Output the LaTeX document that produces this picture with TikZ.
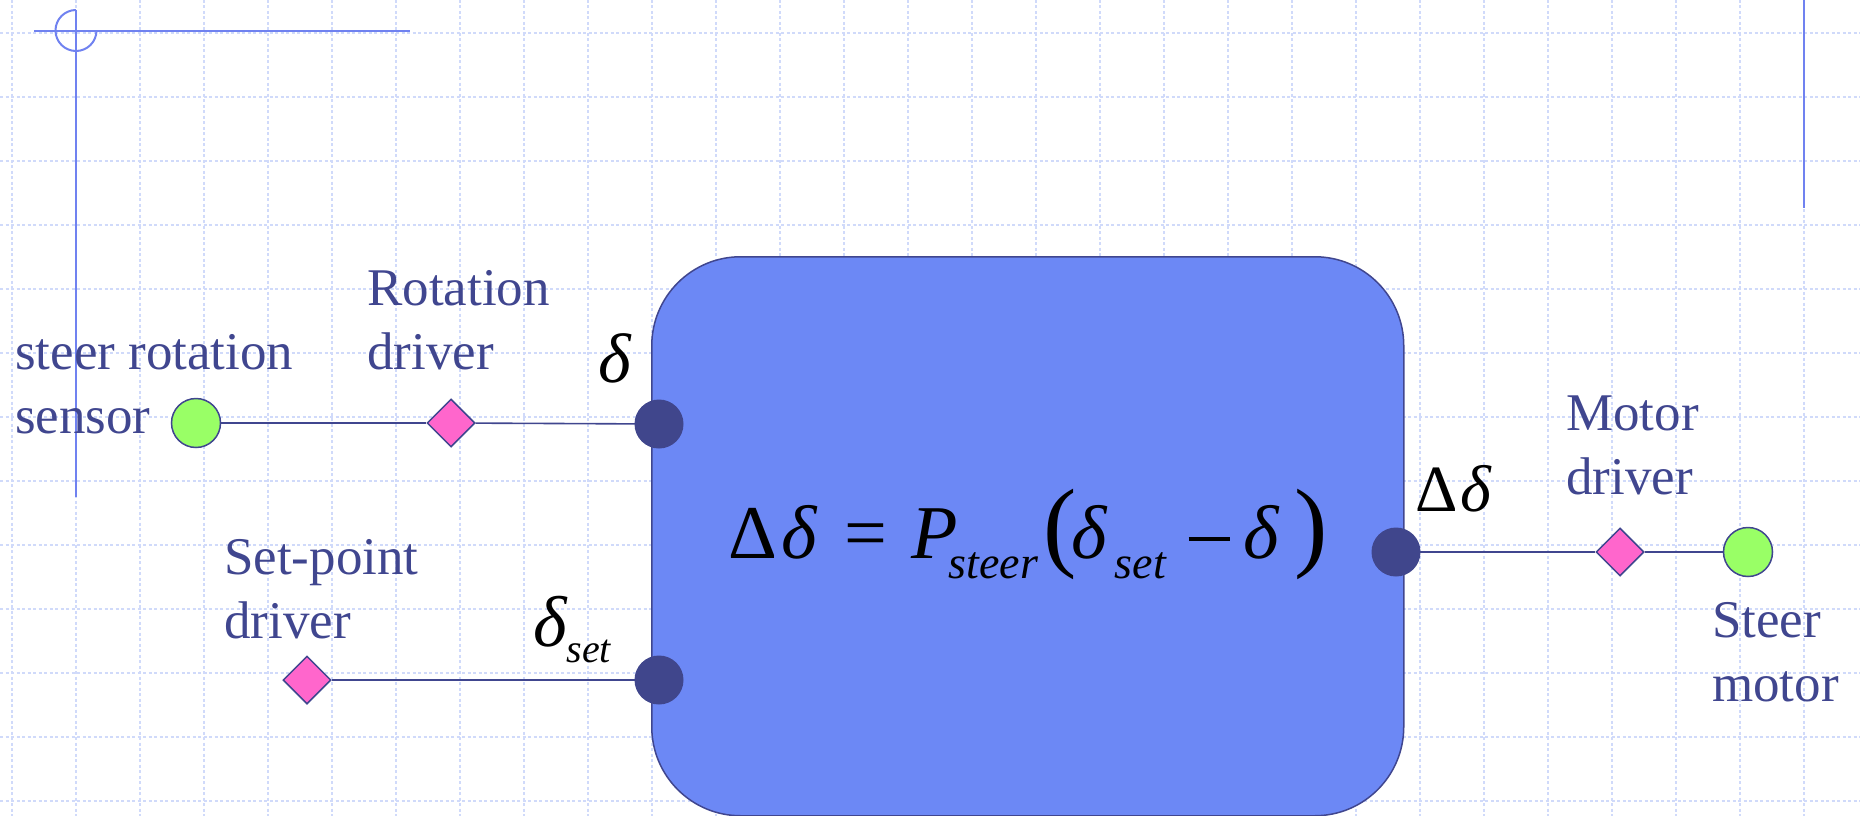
\documentclass[tikz,border=0pt]{standalone}
\usepackage{fontspec}
\setmainfont{Liberation Serif}
\usetikzlibrary{shapes.geometric}
\definecolor{gridc}{RGB}{208,218,250}
\definecolor{guide}{RGB}{112,130,240}
\definecolor{navy}{RGB}{64,70,143}
\definecolor{boxfill}{RGB}{108,136,245}
\definecolor{portc}{RGB}{64,70,140}
\definecolor{sensc}{RGB}{153,255,102}
\definecolor{drvc}{RGB}{255,102,204}
\begin{document}
\begin{tikzpicture}[x=1pt,y=-1pt,
  gridline/.style={gridc, line width=1.4pt, dash pattern=on 3pt off 2.5pt},
  guideline/.style={guide, line width=2pt},
  lbl/.style={anchor=base west, inner sep=0pt, text=navy, font=\fontsize{53}{64}\selectfont},
  sym/.style={anchor=base west, inner sep=0pt, text=black},
  wire/.style={navy, line width=1.6pt},
  sensor/.style={circle, draw=navy, line width=1.5pt, fill=sensc, minimum size=49pt, inner sep=0pt},
  driver/.style={diamond, draw=navy, line width=1.5pt, fill=drvc, minimum width=48pt, minimum height=48pt, inner sep=0pt},
  port/.style={circle, fill=portc, minimum size=49pt, inner sep=0pt},
  blockbox/.style={draw=navy, line width=1.5pt, fill=boxfill, rounded corners=89pt, inner sep=0pt},
]
\useasboundingbox (0,0) rectangle (1860,816);
% background grid
\foreach \i in {0,...,28} \draw[gridline] ({12+64*\i},0) -- ({12+64*\i},816);
\foreach \j in {0,...,12} \draw[gridline] (0,{33+64*\j}) -- (1860,{33+64*\j});
% guide lines
\draw[guideline] (34,31) -- (410,31);
\draw[guideline] (76,10) -- (76,497);
\draw[guideline] (76,10) arc[start angle=270, end angle=0, radius=20.5];
\draw[guideline] (1804,0) -- (1804,208);
% main block
\node[blockbox, minimum width=752pt, minimum height=559pt, anchor=north west] (box) at (651,256) {};
% formula
\node[sym] (eq) at (728,558) {\fontsize{76}{90}\selectfont
  \rlap{Δ}%
  \rlap{\hspace*{53pt}\itshape δ}%
  \rlap{\hspace*{116pt}=}%
  \rlap{\hspace*{183pt}\itshape P}%
  \rlap{\hspace*{220pt}\raisebox{-20pt}{\fontsize{46}{50}\selectfont\itshape steer}}%
  \rlap{\hspace*{315pt}\fontsize{100}{110}\selectfont (}%
  \rlap{\hspace*{343pt}\itshape δ}%
  \rlap{\hspace*{386pt}\raisebox{-20pt}{\fontsize{46}{50}\selectfont\itshape set}}%
  \rlap{\hspace*{460pt}\rule[17pt]{41pt}{4pt}}%
  \rlap{\hspace*{515pt}\itshape δ}%
  \rlap{\hspace*{566pt}\fontsize{100}{110}\selectfont )}};
% components
\node[sensor] (sens) at (196,423) {};
\node[driver] (rdrv) at (451,423) {};
\node[driver] (sdrv) at (307,680) {};
\node[driver] (mdrv) at (1620,552) {};
\node[sensor] (mot) at (1748,552) {};
% connectors
\draw[wire] (sens) -- (rdrv);
\draw[wire] (rdrv) -- (659,424) coordinate (pdin);
\draw[wire] (sdrv) -- (659,680) coordinate (psin);
\draw[wire] (1396,552) coordinate (poout) -- (mdrv);
\draw[wire] (mdrv) -- (mot);
% ports
\node[port] (pd) at (pdin) {};
\node[port] (ps) at (psin) {};
\node[port] (po) at (poout) {};
% labels
\node[lbl] (tsens) at (15,369) {\begin{tabular}[t]{@{}l@{}}steer rotation\\sensor\end{tabular}};
\node[lbl] (trdrv) at (367,305) {\begin{tabular}[t]{@{}l@{}}Rotation\\driver\end{tabular}};
\node[lbl] (tsdrv) at (224,574) {\begin{tabular}[t]{@{}l@{}}Set-point\\driver\end{tabular}};
\node[lbl] (tmdrv) at (1566,430) {\begin{tabular}[t]{@{}l@{}}Motor\\driver\end{tabular}};
\node[lbl] (tmot) at (1712,637) {\begin{tabular}[t]{@{}l@{}}Steer\\motor\end{tabular}};
% port symbols
\node[sym, font=\fontsize{70}{80}\selectfont\itshape] (ld) at (598,382) {δ};
\node[sym] (lds) at (533,646) {\fontsize{72}{80}\selectfont\itshape δ\raisebox{-16pt}{\fontsize{40}{44}\selectfont set}};
\node[sym, font=\fontsize{66}{76}\selectfont] (ldo) at (1415,511) {Δ\kern3pt{\itshape δ}};
\end{tikzpicture}
\end{document}
